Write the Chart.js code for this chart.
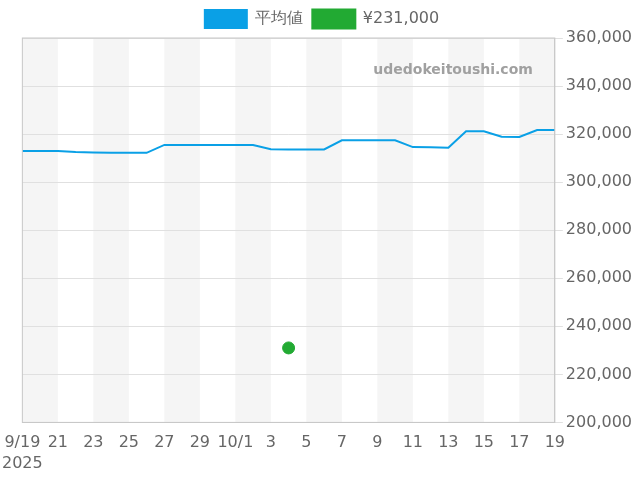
<!DOCTYPE html>
<html>
<head>
<meta charset="utf-8">
<script src="https://cdn.jsdelivr.net/npm/chart.js@4"></script>
<style>
  body { margin: 0; background: #fff; }
</style>
</head>
<body>
<canvas id="myChart" width="640" height="480"></canvas>
<script>
const days = ["9/19","20","21","22","23","24","25","26","27","28","29","30","10/1","2","3","4","5","6","7","8","9","10","11","12","13","14","15","16","17","18","19"];
const average = [313000,313000,313000,312500,312300,312200,312200,312200,315500,315500,315500,315500,315500,315500,313700,313600,313600,313600,317400,317400,317400,317400,314600,314500,314300,321200,321200,318900,318800,321700,321700];
const listing = days.map((d, i) => (i === 15 ? 231000 : null));
const yTicks = [200000, 360000, 20000];

// 2日ごとの背景の縞 + 枠
const bands = {
  id: "bands",
  beforeDraw(chart) {
    const { ctx, chartArea, scales } = chart;
    ctx.save();
    ctx.fillStyle = "#f5f5f5";
    for (let i = 0; i < days.length - 1; i += 4) {
      const x1 = scales.x.getPixelForValue(i);
      const x2 = scales.x.getPixelForValue(Math.min(i + 2, days.length - 1));
      ctx.fillRect(x1, chartArea.top, x2 - x1, chartArea.bottom - chartArea.top);
    }
    ctx.fillStyle = "#a0a0a0";
    ctx.font = "bold 14px 'DejaVu Sans'";
    ctx.textAlign = "right";
    ctx.fillText("udedokeitoushi.com", chartArea.right - 22, chartArea.top + 32);
    ctx.restore();
  },
  afterDraw(chart) {
    const { ctx, chartArea } = chart;
    ctx.save();
    ctx.strokeStyle = "#c8c8c8";
    ctx.lineWidth = 1;
    ctx.strokeRect(chartArea.left, chartArea.top, chartArea.right - chartArea.left, chartArea.bottom - chartArea.top);
    ctx.restore();
  },
};

const ctx = document.getElementById("myChart");

new Chart(ctx, {
  type: "line",
  data: {
    labels: days,
    datasets: [
      {
        label: "平均値",
        data: average,
        borderColor: "#0aa0e6",
        backgroundColor: "#0aa0e6",
        borderWidth: 2,
        pointRadius: 0,
        tension: 0,
      },
      {
        label: "¥231,000",
        data: listing,
        borderColor: "#22aa33",
        backgroundColor: "#22aa33",
        showLine: false,
        pointRadius: 6,
      },
    ],
  },
  options: {
    responsive: false,
    animation: false,
    layout: { padding: { left: 9, right: 5, bottom: 4 } },
    plugins: {
      legend: {
        labels: { font: { size: 16, family: "DejaVu Sans" }, color: "#666", boxWidth: 42, boxHeight: 18 },
      },
      tooltip: { enabled: false },
    },
    scales: {
      x: {
        offset: false,
        grid: { display: false },
        border: { color: "#ccc" },
        ticks: {
          autoSkip: false,
          maxRotation: 0,
          padding: 2,
          color: "#666",
          font: { size: 16, family: "DejaVu Sans", lineHeight: 1.3 },
          callback: (v, i) => (i % 2 ? null : i === 0 ? ["9/19", "2025"] : days[i]),
        },
      },
      y: {
        position: "right",
        min: yTicks[0],
        max: yTicks[1],
        grid: { color: "#e0e0e0" },
        border: { color: "#ccc" },
        ticks: {
          stepSize: yTicks[2],
          color: "#666",
          font: { size: 16, family: "DejaVu Sans" },
          callback: (v) => v.toLocaleString("en-US"),
        },
      },
    },
  },
  plugins: [bands],
});
</script>
</body>
</html>
